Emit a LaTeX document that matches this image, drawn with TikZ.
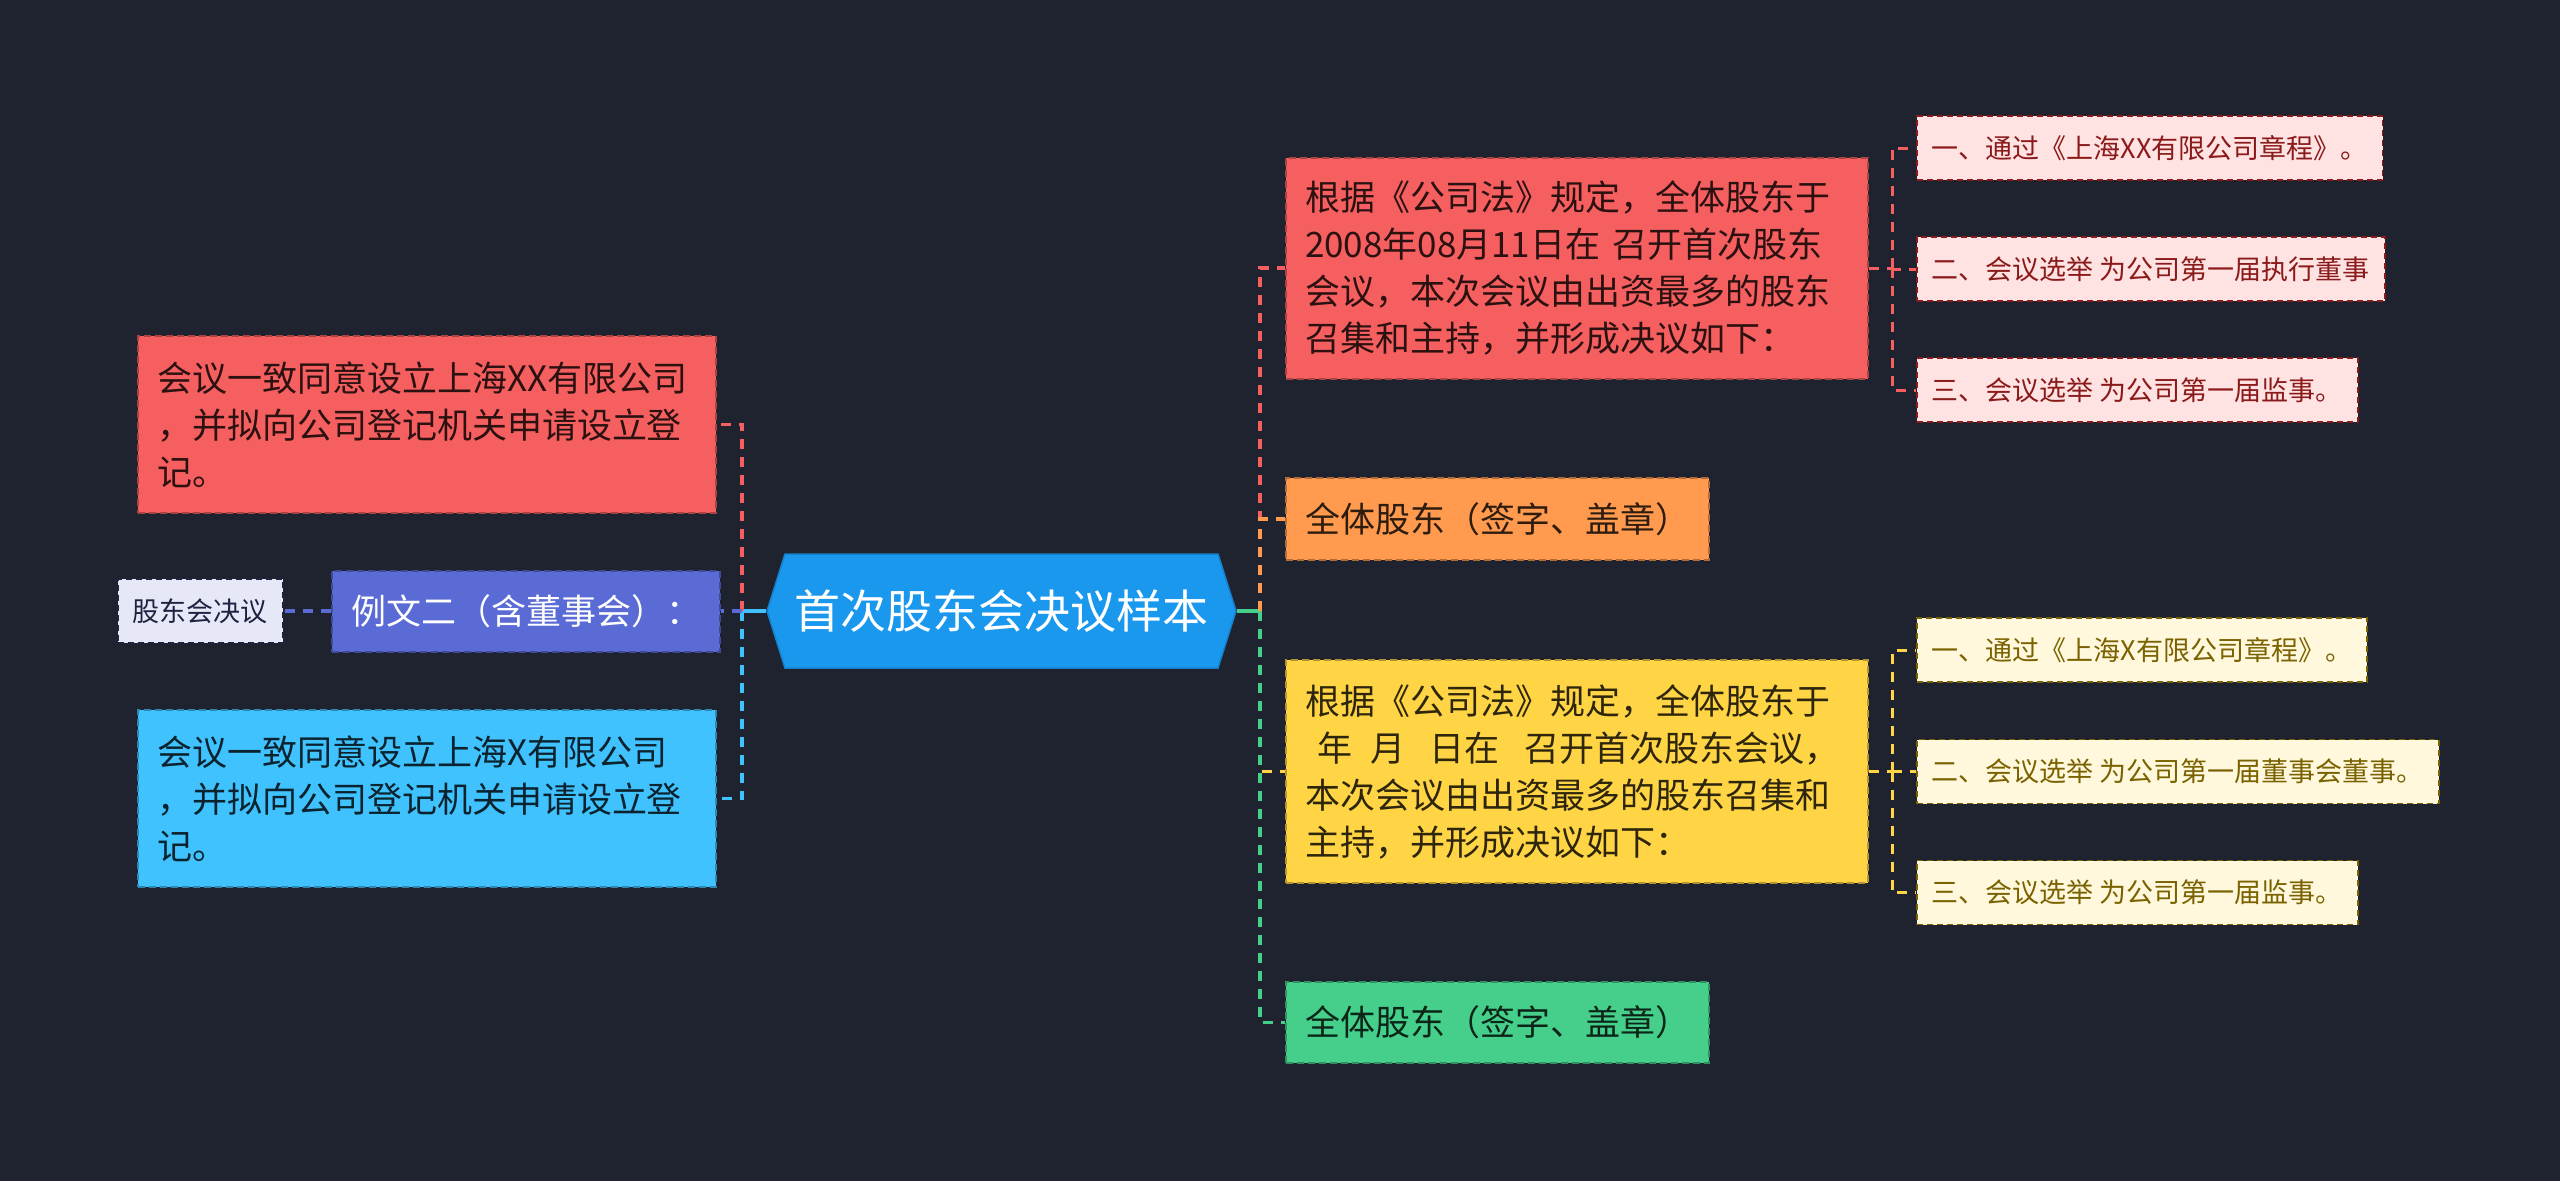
\documentclass[tikz,border=0pt]{standalone}
\usepackage{fontspec}
\setmainfont{Noto Sans CJK SC}
\usetikzlibrary{shapes.symbols}
\definecolor{BgDark}{HTML}{1F2330}
\definecolor{RootBlue}{HTML}{1A98EE}
\definecolor{NoteRed}{HTML}{F65F5F}
\definecolor{NoteIndigo}{HTML}{5A6BD5}
\definecolor{NoteCyan}{HTML}{40C2FF}
\definecolor{NoteOrange}{HTML}{FF9A4F}
\definecolor{NoteYellow}{HTML}{FFD445}
\definecolor{NoteGreen}{HTML}{45CF8A}
\definecolor{NotePink}{HTML}{FFE2E2}
\definecolor{NoteCream}{HTML}{FFF8DC}
\definecolor{NoteLilac}{HTML}{E6E8F8}
\definecolor{InkRed}{HTML}{8B1A1A}
\definecolor{InkOlive}{HTML}{7A6200}
\definecolor{InkNavy}{HTML}{1F2340}
\newcommand{\rootfs}{\fontsize{46}{56}\selectfont}
\newcommand{\notefs}{\fontsize{35}{47}\selectfont}
\newcommand{\leaffs}{\fontsize{27}{33}\selectfont}

\begin{document}
\begin{tikzpicture}[x=1pt,y=-1pt,
    rootnode/.style={shape=signal,signal to=east and west,signal pointer angle=145,fill=RootBlue,draw=RootBlue!85!black,line width=1.5,text=white,minimum width=469,minimum height=114,inner sep=0,font=\rootfs},
    notebox/.style={anchor=west,fill=#1,draw=#1!70!black,text=#1!18!black,line width=2,dash pattern=on 7 off 4,inner xsep=19,inner ysep=0,align=left,font=\notefs},
    leafbox/.style 2 args={anchor=west,fill=#1,draw=#2,text=#2,line width=1.5,dash pattern=on 6 off 4,inner xsep=15,inner ysep=0,minimum height=64,font=\leaffs},
    link/.style={draw=#1,line width=3.5,dash pattern=on 10 off 8}]
    \path[use as bounding box,fill=BgDark] (0,0) rectangle (2560,1181);

    \node[rootnode] (root) at (1001.5,611) {首次股东会决议样本};

    \node[notebox=NoteIndigo,text=white,minimum height=81] (example) at (331,611) {例文二（含董事会）：};
    \node[leafbox={NoteLilac}{InkNavy}] (resolution) at (117,611) {股东会决议};
    \node[notebox=NoteRed,text width=540,minimum height=177] (leftred) at (137,424.5) {会议一致同意设立上海XX有限公司\\，并拟向公司登记机关申请设立登\\记。};
    \node[notebox=NoteCyan,text width=540,minimum height=177] (leftcyan) at (137,798.5) {会议一致同意设立上海X有限公司\\，并拟向公司登记机关申请设立登\\记。};

    \node[notebox=NoteRed,text width=544,minimum height=221] (rightred) at (1285,268) {根据《公司法》规定，全体股东于\\2008年08月11日在 召开首次股东\\会议，本次会议由出资最多的股东\\召集和主持，并形成决议如下：};
    \node[notebox=NoteOrange,minimum height=82] (signorange) at (1285,519) {全体股东（签字、盖章）};
    \node[notebox=NoteYellow,text width=544,minimum height=223] (rightyellow) at (1285,771.5) {根据《公司法》规定，全体股东于\\\hspace*{12pt}年\hspace{19pt}月\hspace{23pt}日在\hspace{26pt}召开首次股东会议，\\本次会议由出资最多的股东召集和\\主持，并形成决议如下：};
    \node[notebox=NoteGreen,minimum height=81] (signgreen) at (1285,1022.5) {全体股东（签字、盖章）};

    \node[leafbox={NotePink}{InkRed}] (redone) at (1916,148) {一、通过《上海XX有限公司章程》。};
    \node[leafbox={NotePink}{InkRed}] (redtwo) at (1916,269) {二、会议选举 为公司第一届执行董事};
    \node[leafbox={NotePink}{InkRed}] (redthree) at (1916,390) {三、会议选举 为公司第一届监事。};
    \node[leafbox={NoteCream}{InkOlive}] (yelone) at (1916,650) {一、通过《上海X有限公司章程》。};
    \node[leafbox={NoteCream}{InkOlive}] (yeltwo) at (1916,771.5) {二、会议选举 为公司第一届董事会董事。};
    \node[leafbox={NoteCream}{InkOlive}] (yelthree) at (1916,892.5) {三、会议选举 为公司第一届监事。};

    \coordinate (lj) at (742,611);
    \coordinate (rj) at (1260,611);
    \coordinate (rjred) at (1892,268);
    \coordinate (rjyel) at (1892,771.5);

    \draw[NoteCyan,line width=3.5] (root.west) -- (lj);
    \draw[link=NoteRed] (lj) |- (leftred.east);
    \draw[link=NoteCyan] (lj) |- (leftcyan.east);
    \draw[link=NoteIndigo] (lj) -- (example.east);
    \draw[link=NoteIndigo] (example.west) -- (resolution.east);

    \draw[NoteGreen,line width=3.5] (root.east) -- (rj);
    \draw[link=NoteRed] (rj) |- (rightred.west);
    \draw[link=NoteOrange] (rj) |- (signorange.west);
    \draw[link=NoteYellow] (rj) |- (rightyellow.west);
    \draw[link=NoteGreen] (rj) |- (signgreen.west);

    \draw[link=NoteRed,line width=3] (rightred.east) -- (rjred);
    \draw[link=NoteRed,line width=3] (rjred) |- (redone.west);
    \draw[link=NoteRed,line width=3] (rjred) |- (redtwo.west);
    \draw[link=NoteRed,line width=3] (rjred) |- (redthree.west);
    \draw[link=NoteYellow,line width=3] (rightyellow.east) -- (rjyel);
    \draw[link=NoteYellow,line width=3] (rjyel) |- (yelone.west);
    \draw[link=NoteYellow,line width=3] (rjyel) |- (yeltwo.west);
    \draw[link=NoteYellow,line width=3] (rjyel) |- (yelthree.west);
\end{tikzpicture}
\end{document}
